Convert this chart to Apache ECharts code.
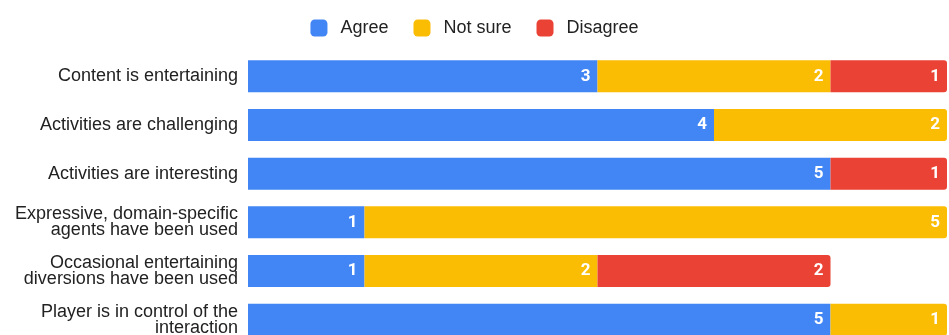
<!DOCTYPE html>
<html>
<head>
<meta charset="utf-8">
<style>
  html, body { margin: 0; padding: 0; background: #fff; }
  #chart { width: 949px; height: 335px; }
</style>
<script src="https://cdn.jsdelivr.net/npm/echarts@6/dist/echarts.min.js"></script>
</head>
<body>
<div id="chart"></div>
<script>
// Survey statements, top to bottom
const categories = [
  'Content is entertaining',
  'Activities are challenging',
  'Activities are interesting',
  'Expressive, domain-specific\nagents have been used',
  'Occasional entertaining\ndiversions have been used',
  'Player is in control of the\ninteraction'
];
const seriesNames = ['Agree', 'Not sure', 'Disagree'];
const agree    = [3, 4, 5, 1, 1, 5];
const notSure  = [2, 2, 0, 5, 2, 1];
const disagree = [1, 0, 1, 0, 2, 0];
const colors = ['#4285F4', '#FBBC04', '#EA4335'];

const allValues = [agree, notSure, disagree];

// The last non-empty segment of each row gets rounded right corners
function buildData(si) {
  return allValues[si].map((v, i) => {
    let last = -1;
    allValues.forEach((arr, k) => { if (arr[i] > 0) last = k; });
    return {
      value: v,
      itemStyle: { borderRadius: last === si ? [0, 3, 3, 0] : 0 }
    };
  });
}

const chart = echarts.init(document.getElementById('chart'));
chart.setOption({
  animation: false,
  color: colors,
  legend: {
    top: 14,
    left: 'center',
    itemWidth: 17,
    itemHeight: 17,
    itemGap: 25,
    icon: 'roundRect',
    textStyle: {
      fontFamily: 'Liberation Sans, Arial, sans-serif',
      fontSize: 18,
      color: '#222',
      padding: [0, 0, 0, 8]
    },
    data: seriesNames
  },
  // the plot area runs past the bottom edge, so the last row is clipped
  grid: {
    left: 248, right: 2, top: 52, height: 292,
    containLabel: false,
    outerBoundsMode: 'none'
  },
  xAxis: {
    type: 'value',
    min: 0,
    max: 6,
    show: false
  },
  yAxis: {
    type: 'category',
    inverse: true,
    data: categories,
    axisLine: { show: false },
    axisTick: { show: false },
    axisLabel: {
      margin: 10,
      fontFamily: 'Liberation Sans, Arial, sans-serif',
      fontSize: 18,
      lineHeight: 16,
      color: '#222',
      align: 'right'
    }
  },
  series: seriesNames.map((name, si) => ({
    name,
    type: 'bar',
    stack: 'total',
    barWidth: 32,
    data: buildData(si),
    label: {
      show: true,
      position: 'insideRight',
      distance: 7,
      color: '#fff',
      fontFamily: 'Roboto, sans-serif',
      fontWeight: 'bold',
      fontSize: 17,
      formatter: p => (p.value > 0 ? String(p.value) : '')
    }
  }))
});
</script>
</body>
</html>
